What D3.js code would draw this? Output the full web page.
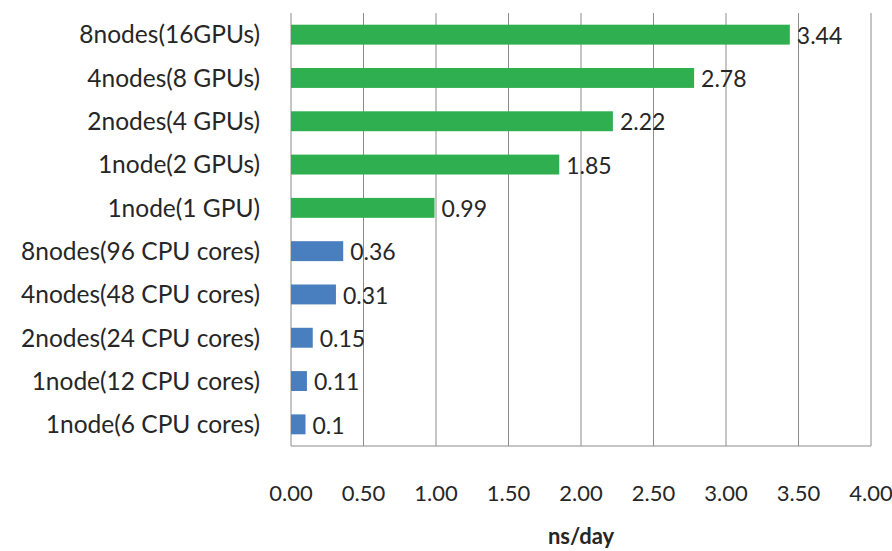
<!DOCTYPE html>
<html>
<head>
<meta charset="utf-8">
<script src="https://cdn.jsdelivr.net/npm/d3@7"></script>
<style>
  body { margin: 0; background: #fff; }
  svg text { font-family: Lato, "Open Sans", sans-serif; fill: #262626; }
</style>
</head>
<body>
<svg width="892" height="551"></svg>
<script>
var categories = [
  "8nodes(16GPUs)", "4nodes(8 GPUs)", "2nodes(4 GPUs)", "1node(2 GPUs)", "1node(1 GPU)",
  "8nodes(96 CPU cores)", "4nodes(48 CPU cores)", "2nodes(24 CPU cores)",
  "1node(12 CPU cores)", "1node(6 CPU cores)"
];
var values = [3.44, 2.78, 2.22, 1.85, 0.99, 0.36, 0.31, 0.15, 0.11, 0.1];
var valueLabels = ["3.44", "2.78", "2.22", "1.85", "0.99", "0.36", "0.31", "0.15", "0.11", "0.1"];
var kinds = ["gpu", "gpu", "gpu", "gpu", "gpu", "cpu", "cpu", "cpu", "cpu", "cpu"];
var xTicks = [0, 0.5, 1, 1.5, 2, 2.5, 3, 3.5, 4];
var xTitle = "ns/day";

var svg = d3.select("svg");
var plotLeft = 291, plotRight = 871, plotTop = 13, plotBottom = 446;

var x = d3.scaleLinear().domain([0, 4]).range([plotLeft, plotRight]);
var y = d3.scaleBand()
  .domain(categories)
  .range([plotTop, plotBottom])
  .paddingInner(0.54)
  .paddingOuter(0.27);

var color = { gpu: "#2faf4f", cpu: "#4a7fbf" };

// grid lines
svg.selectAll("line.grid")
  .data(xTicks).enter()
  .append("line")
  .attr("class", "grid")
  .attr("x1", function (d) { return x(d); })
  .attr("x2", function (d) { return x(d); })
  .attr("y1", plotTop)
  .attr("y2", plotBottom)
  .attr("stroke", "#8c8c8c")
  .attr("stroke-width", 1);

svg.append("line")
  .attr("x1", plotLeft).attr("x2", plotRight)
  .attr("y1", plotBottom).attr("y2", plotBottom)
  .attr("stroke", "#8c8c8c");

// bars
svg.selectAll("rect.bar")
  .data(values).enter()
  .append("rect")
  .attr("class", "bar")
  .attr("x", x(0))
  .attr("y", function (d, i) { return y(categories[i]); })
  .attr("width", function (d) { return x(d) - x(0); })
  .attr("height", y.bandwidth())
  .attr("fill", function (d, i) { return color[kinds[i]]; });

// value labels
svg.selectAll("text.val")
  .data(values).enter()
  .append("text")
  .attr("class", "val")
  .attr("x", function (d) { return x(d) + 7; })
  .attr("y", function (d, i) { return y(categories[i]) + y.bandwidth() / 2; })
  .attr("dy", "0.4em")
  .attr("font-size", 23)
  .text(function (d, i) { return valueLabels[i]; });

// category labels
svg.selectAll("text.cat")
  .data(categories).enter()
  .append("text")
  .attr("class", "cat")
  .attr("x", 260)
  .attr("y", function (d) { return y(d) + y.bandwidth() / 2; })
  .attr("dy", "0.36em")
  .attr("text-anchor", "end")
  .attr("font-size", 24.5)
  .text(function (d) { return d; });

// x tick labels
svg.selectAll("text.tick")
  .data(xTicks).enter()
  .append("text")
  .attr("class", "tick")
  .attr("x", function (d) { return x(d); })
  .attr("y", 501)
  .attr("text-anchor", "middle")
  .attr("font-size", 22)
  .text(function (d) { return d3.format(".2f")(d); });

svg.append("text")
  .attr("x", (plotLeft + plotRight) / 2)
  .attr("y", 544)
  .attr("text-anchor", "middle")
  .attr("font-size", 22)
  .attr("font-weight", "bold")
  .text(xTitle);
</script>
</body>
</html>
